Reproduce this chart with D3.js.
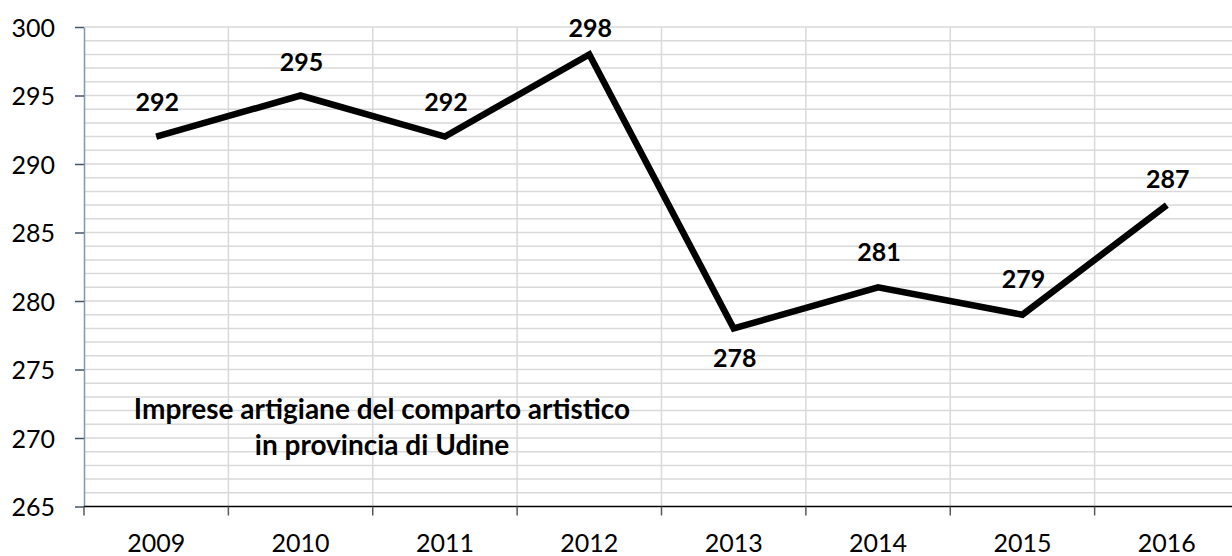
<!DOCTYPE html>
<html>
<head>
<meta charset="utf-8">
<script src="https://cdn.jsdelivr.net/npm/d3@7"></script>
<style>
  html, body { margin: 0; padding: 0; background: #ffffff; }
  svg { display: block; font-family: Lato, "Open Sans", sans-serif; }
</style>
</head>
<body>
<svg id="chart" width="1232" height="556"></svg>
<script>
// Imprese artigiane del comparto artistico, provincia di Udine
const years = ["2009", "2010", "2011", "2012", "2013", "2014", "2015", "2016"];
const imprese = [292, 295, 292, 298, 278, 281, 279, 287];
const yTicks = [265, 270, 275, 280, 285, 290, 295, 300];
const titleLines = ["Imprese artigiane del comparto artistico", "in provincia di Udine"];

// vertical offset of each value label from its point (positive = above)
const labelRise = [26, 25, 26, 17, -39, 26, 27, 17];

const svg = d3.select("#chart");
const plotLeft = 84, plotRight = 1239, plotTop = 27, plotBottom = 506.5;

const x = d3.scaleBand().domain(years).range([plotLeft, plotRight]).paddingInner(0).paddingOuter(0);
const y = d3.scaleLinear().domain([265, 300]).range([plotBottom, plotTop]);
const cx = d => x(d) + x.bandwidth() / 2;

// minor horizontal grid, one line per unit
const gridVals = d3.range(266, 301, 1);
svg.append("g")
  .selectAll("line")
  .data(gridVals)
  .join("line")
  .attr("x1", plotLeft).attr("x2", plotRight)
  .attr("y1", d => y(d)).attr("y2", d => y(d))
  .attr("stroke", "#d9d9d9").attr("stroke-width", 1.5);

// vertical grid at category boundaries
svg.append("g")
  .selectAll("line")
  .data(years.slice(1))
  .join("line")
  .attr("x1", d => x(d)).attr("x2", d => x(d))
  .attr("y1", plotTop).attr("y2", plotBottom)
  .attr("stroke", "#d9d9d9").attr("stroke-width", 1.5);

// y axis
const yAxis = svg.append("g")
  .attr("transform", `translate(${plotLeft},0)`)
  .call(d3.axisLeft(y).tickValues(yTicks).tickSize(9).tickPadding(20).tickSizeOuter(0));
yAxis.select(".domain").attr("stroke", "#8497b0").attr("stroke-width", 1.5);
yAxis.selectAll(".tick line").attr("stroke", "#44546a").attr("stroke-width", 1.5);
yAxis.selectAll(".tick text")
  .attr("font-family", "Lato, sans-serif")
  .attr("font-size", 25)
  .attr("fill", "#000")
  .attr("dy", "0.36em");

// x axis with ticks at category boundaries
const xAxisG = svg.append("g").attr("transform", `translate(0,${plotBottom})`);
xAxisG.append("line")
  .attr("x1", plotLeft).attr("x2", plotRight)
  .attr("y1", 0).attr("y2", 0)
  .attr("stroke", "#000").attr("stroke-width", 1.5);
const boundaries = years.map(d => x(d)).concat([plotRight]);
xAxisG.selectAll("line.tk")
  .data(boundaries)
  .join("line")
  .attr("class", "tk")
  .attr("x1", d => d).attr("x2", d => d)
  .attr("y1", 0).attr("y2", 9)
  .attr("stroke", "#595959").attr("stroke-width", 1.5);
xAxisG.selectAll("text")
  .data(years)
  .join("text")
  .attr("x", d => cx(d))
  .attr("y", 45)
  .attr("text-anchor", "middle")
  .attr("font-size", 25)
  .attr("fill", "#000")
  .text(d => d);

// series line
const pts = years.map((d, i) => [cx(d), y(imprese[i])]);
svg.append("path")
  .attr("d", d3.line()(pts))
  .attr("fill", "none")
  .attr("stroke", "#000")
  .attr("stroke-width", 6.5)
  .attr("stroke-linejoin", "miter");

// value labels
svg.append("g")
  .selectAll("text")
  .data(imprese)
  .join("text")
  .attr("x", (v, i) => cx(years[i]) + 1)
  .attr("y", (v, i) => y(v) - labelRise[i])
  .attr("text-anchor", "middle")
  .attr("font-size", 25)
  .attr("font-weight", "bold")
  .attr("fill", "#000")
  .text(v => v);

// title inside the plot
svg.append("g")
  .selectAll("text")
  .data(titleLines)
  .join("text")
  .attr("x", 382)
  .attr("y", (d, i) => 419 + i * 36)
  .attr("text-anchor", "middle")
  .attr("font-size", 28)
  .attr("font-weight", "bold")
  .attr("fill", "#000")
  .text(d => d);
</script>
</body>
</html>
